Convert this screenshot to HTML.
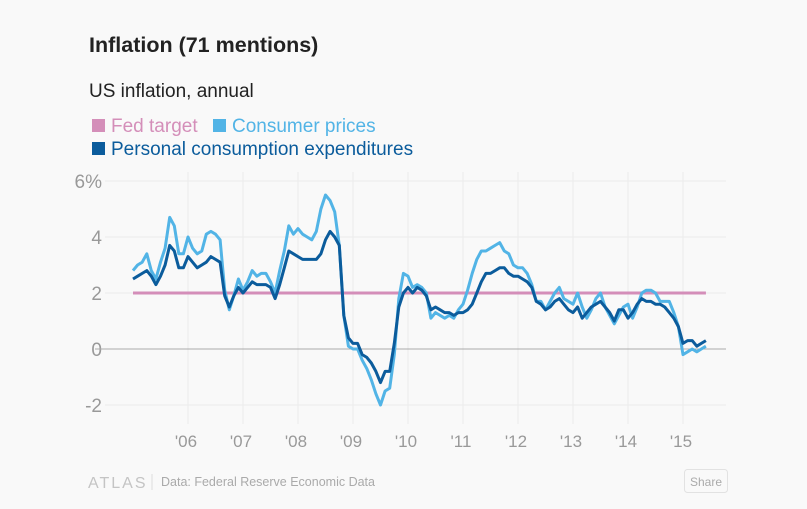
<!DOCTYPE html>
<html><head><meta charset="utf-8"><style>
html,body{margin:0;padding:0;background:#f9f9f9;}
body{width:807px;height:504px;overflow:hidden;font-family:"Liberation Sans",sans-serif;}
svg text{font-family:"Liberation Sans",sans-serif;}
</style></head><body>
<svg width="807" height="504" xmlns="http://www.w3.org/2000/svg">
<rect width="807" height="504" fill="#f9f9f9"/>
<text x="89" y="52" font-size="21.5" font-weight="bold" fill="#222">Inflation (71 mentions)</text>
<text x="89" y="97" font-size="19" fill="#222">US inflation, annual</text>
<g>
<g><rect x="92" y="119" width="13" height="13" fill="#d48eb9"/><text x="111" y="132" font-size="19" fill="#d48eb9">Fed target</text></g>
<g><rect x="213" y="119" width="13" height="13" fill="#52b4e6"/><text x="232" y="132" font-size="19" fill="#52b4e6">Consumer prices</text></g>
<g><rect x="92" y="142" width="13" height="13" fill="#0b5c9c"/><text x="111" y="155" font-size="19" fill="#0b5c9c">Personal consumption expenditures</text></g>
</g>
<g id="grid"></g>
<g id="axes"></g>
<g id="series"></g>
<g>
<text x="88" y="488" font-size="16" fill="#c4c4c4" letter-spacing="2">ATLAS</text>
<line x1="152" y1="474" x2="152" y2="490" stroke="#ddd"/>
<text x="161" y="486" font-size="12.5" fill="#aaa">Data: Federal Reserve Economic Data</text>
<rect x="684.5" y="469.5" width="43" height="23" rx="3" fill="#f9f9f9" stroke="#e2e2e2"/>
<text x="706" y="486" font-size="12" fill="#aaa" text-anchor="middle">Share</text>
</g>
</svg>
<script>
const yTicks=[6,4,2,0,-2];
const yTickLabels=["6%","4","2","0","-2"];
const xTickYears=[2006,2007,2008,2009,2010,2011,2012,2013,2014,2015];
const xTickLabels=["'06","'07","'08","'09","'10","'11","'12","'13","'14","'15"];
const startYear=2005;
const fedTarget=2;
const cpi=[2.8,3.0,3.1,3.4,2.8,2.5,3.1,3.6,4.7,4.4,3.4,3.4,
4.0,3.6,3.4,3.5,4.1,4.2,4.1,3.9,2.1,1.4,1.9,2.5,
2.1,2.4,2.8,2.6,2.7,2.7,2.4,2.0,2.8,3.5,4.4,4.1,
4.3,4.1,4.0,3.9,4.2,5.0,5.5,5.3,4.9,3.7,1.2,0.1,
0.0,0.0,-0.4,-0.7,-1.1,-1.6,-2.0,-1.5,-1.4,-0.2,1.8,2.7,
2.6,2.2,2.3,2.2,2.0,1.1,1.3,1.2,1.1,1.2,1.1,1.4,
1.6,2.1,2.7,3.2,3.5,3.5,3.6,3.7,3.8,3.5,3.4,3.0,
2.9,2.9,2.7,2.3,1.7,1.7,1.4,1.7,2.0,2.2,1.8,1.7,
1.6,2.0,1.5,1.1,1.4,1.8,2.0,1.5,1.2,0.9,1.2,1.5,
1.6,1.1,1.5,2.0,2.1,2.1,2.0,1.7,1.7,1.7,1.3,0.8,
-0.2,-0.1,0.0,-0.1,0.0,0.1];
const pceValues=[2.5,2.6,2.7,2.8,2.6,2.3,2.6,3.0,3.7,3.5,2.9,2.9,
3.3,3.1,2.9,3.0,3.1,3.3,3.2,3.1,1.9,1.5,1.9,2.2,
2.0,2.2,2.4,2.3,2.3,2.3,2.2,1.8,2.3,2.9,3.5,3.4,
3.3,3.2,3.2,3.2,3.2,3.4,3.9,4.2,4.0,3.7,1.2,0.4,
0.2,0.2,-0.2,-0.3,-0.5,-0.8,-1.2,-0.8,-0.8,0.2,1.5,2.0,
2.2,2.0,2.2,2.1,1.9,1.4,1.5,1.4,1.3,1.3,1.2,1.3,
1.3,1.4,1.6,2.0,2.4,2.7,2.7,2.8,2.9,2.9,2.7,2.6,
2.6,2.5,2.4,2.2,1.7,1.6,1.4,1.5,1.7,1.8,1.6,1.4,
1.3,1.5,1.1,1.3,1.5,1.6,1.7,1.5,1.3,1.0,1.4,1.4,
1.1,1.3,1.6,1.8,1.7,1.7,1.6,1.6,1.5,1.3,1.1,0.8,
0.2,0.3,0.3,0.1,0.2,0.3];
</script>
<script>
const NS="http://www.w3.org/2000/svg";
const x0=133, pxPerYear=55, yZero=349, pxPerUnit=28;
function xScale(i){return x0+i*pxPerYear/12;}
function xYear(y){return x0+(y-startYear)*pxPerYear;}
function yScale(v){return yZero-v*pxPerUnit;}
function mk(tag,attrs,parent){const e=document.createElementNS(NS,tag);for(const k in attrs)e.setAttribute(k,attrs[k]);parent.appendChild(e);return e;}
const grid=document.getElementById('grid'), axes=document.getElementById('axes'), series=document.getElementById('series');
yTicks.forEach((t,i)=>{
  if(t!==0){const l=mk('line',{x1:105,x2:726,y1:yScale(t),y2:yScale(t),stroke:'#ececec','stroke-width':1},grid);
  
  }
  const tx=mk('text',{x:102,y:yScale(t)+7,'font-size':19,fill:'#999','text-anchor':'end'},axes);
  tx.textContent=yTickLabels[i];
  
  
});
xTickYears.forEach((yr,i)=>{
  const l=mk('line',{x1:xYear(yr),x2:xYear(yr),y1:172,y2:424,stroke:'#ececec','stroke-width':1},grid);
  
  
  const tx=mk('text',{x:xYear(yr)-2,y:447,'font-size':17,fill:'#999','text-anchor':'middle'},axes);
  tx.textContent=xTickLabels[i];
  
  
});
const zl=mk('line',{x1:95,x2:726,y1:yScale(0),y2:yScale(0),stroke:'#aaa','stroke-width':1},axes);


const n=cpi.length;
const fed=mk('line',{x1:xScale(0),x2:xScale(n-1),y1:yScale(fedTarget),y2:yScale(fedTarget),stroke:'#d48eb9','stroke-width':3},series);


function path(vals){return vals.map((v,i)=>(i?'L':'M')+xScale(i).toFixed(1)+','+yScale(v).toFixed(1)).join('');}
const c=mk('path',{d:path(cpi),fill:'none',stroke:'#52b4e6','stroke-width':3,'stroke-linejoin':'round'},series);


const p=mk('path',{d:path(pceValues),fill:'none',stroke:'#0b5c9c','stroke-width':3,'stroke-linejoin':'round'},series);


</script>
</body></html>
